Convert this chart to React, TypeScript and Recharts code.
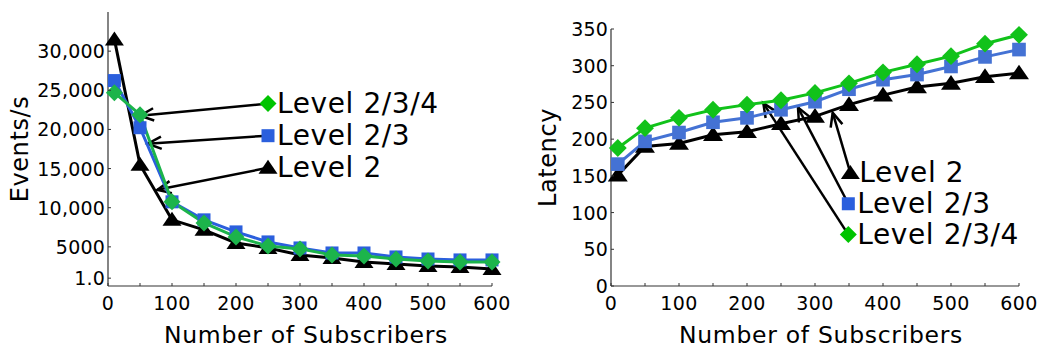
import React from 'react';
import { LineChart, Line, XAxis, YAxis, ReferenceLine, ReferenceDot } from 'recharts';

// subscriber counts on the x axis
const SUBSCRIBERS = [10, 50, 100, 150, 200, 250, 300, 350, 400, 450, 500, 550, 600];
const X_TICKS = [0, 50, 100, 150, 200, 250, 300, 350, 400, 450, 500, 550, 600];

// throughput (events/s)
const EVENTS_L2 = [31500, 15500, 8450, 7170, 5500, 4860, 3970, 3580, 3070, 2800, 2560, 2430, 2170];
const EVENTS_L23 = [26240, 20220, 10750, 8450, 6910, 5630, 4860, 4220, 4220, 3710, 3450, 3330, 3330];
const EVENTS_L234 = [24700, 21890, 10750, 8060, 6270, 5120, 4740, 3970, 3840, 3450, 3200, 3070, 3070];
const EVENTS_TICKS = [1000, 5000, 10000, 15000, 20000, 25000, 30000];

// latency
const LATENCY_L2 = [151, 190, 194, 206, 210, 221, 231, 247, 260, 271, 276, 285, 290];
const LATENCY_L23 = [166, 197, 209, 223, 229, 240, 251, 268, 281, 288, 299, 312, 322];
const LATENCY_L234 = [188, 215, 229, 240, 247, 253, 263, 276, 291, 302, 313, 330, 342];
const LATENCY_TICKS = [0, 50, 100, 150, 200, 250, 300, 350];

const eventsData = SUBSCRIBERS.map((n, i) => ({
  n,
  l2: EVENTS_L2[i],
  l23: EVENTS_L23[i],
  l234: EVENTS_L234[i],
}));
const latencyData = SUBSCRIBERS.map((n, i) => ({
  n,
  l2: LATENCY_L2[i],
  l23: LATENCY_L23[i],
  l234: LATENCY_L234[i],
}));

const FONT = '"DejaVu Sans", Verdana, sans-serif';

// annotation callouts: label anchor and arrow tip, in data units
const EVENTS_NOTES = [
  { label: 'Level 2/3/4', shape: 'diamond', at: [250, 23300], tip: [50, 21760] },
  { label: 'Level 2/3', shape: 'square', at: [250, 19200], tip: [62, 18180] },
  { label: 'Level 2', shape: 'triangle', at: [250, 15100], tip: [77, 12290] },
];
const LATENCY_NOTES = [
  { label: 'Level 2', shape: 'triangle', at: [352, 154], tip: [326, 236] },
  { label: 'Level 2/3', shape: 'square', at: [349, 112], tip: [275, 243] },
  { label: 'Level 2/3/4', shape: 'diamond', at: [349, 70], tip: [224, 249] },
];

const NOTE_FILL: Record<string, string> = {
  triangle: '#000',
  square: '#2b5fdd',
  diamond: '#00c400',
};

function Marker({ shape, cx, cy, fill, s = 1 }: { shape: string; cx: number; cy: number; fill: string; s?: number }) {
  if (shape === 'triangle') {
    return <path d={`M${cx},${cy - 8 * s}L${cx + 9.5 * s},${cy + 6 * s}L${cx - 9.5 * s},${cy + 6 * s}Z`} fill={fill} />;
  }
  if (shape === 'square') {
    return <rect x={cx - 6.5 * s} y={cy - 6.5 * s} width={13 * s} height={13 * s} fill={fill} />;
  }
  return <path d={`M${cx},${cy - 8.5 * s}L${cx + 8.5 * s},${cy}L${cx},${cy + 8.5 * s}L${cx - 8.5 * s},${cy}Z`} fill={fill} />;
}

const dotOf = (shape: string, fill: string, s: number) => (p: any) => (
  <Marker key={`${shape}-${p.index}`} shape={shape} cx={p.cx} cy={p.cy} fill={fill} s={s} />
);

function Arrow(p: any) {
  const { x1, y1, x2, y2 } = p;
  const a = Math.atan2(y2 - y1, x2 - x1);
  const len = 15;
  const s = 0.42;
  const hx1 = x2 - len * Math.cos(a - s);
  const hy1 = y2 - len * Math.sin(a - s);
  const hx2 = x2 - len * Math.cos(a + s);
  const hy2 = y2 - len * Math.sin(a + s);
  return (
    <g>
      <line x1={x1} y1={y1} x2={x2} y2={y2} stroke="#000" strokeWidth={2.5} />
      <polyline
        points={`${hx1},${hy1} ${x2},${y2} ${hx2},${hy2}`}
        fill="none"
        stroke="#000"
        strokeWidth={2.5}
      />
    </g>
  );
}

const noteShape = (shape: string, label: string, gap: number) => (p: any) => (
  <g>
    <Marker shape={shape} cx={p.cx} cy={p.cy} fill={NOTE_FILL[shape]} />
    <text
      x={p.cx + gap}
      y={p.cy}
      dominantBaseline="central"
      fontSize={28}
      letterSpacing={0.6}
      fontFamily={FONT}
      fill="#000"
    >
      {label}
    </text>
  </g>
);

function XTick({ x, y, payload }: any) {
  const v = payload.value;
  return (
    <g>
      <line x1={x} x2={x} y1={y} y2={y - 3} stroke="#333" />
      {v % 100 === 0 && (
        <text x={x} y={y + 17} textAnchor="middle" dominantBaseline="central" fontSize={19} letterSpacing={0.4} fontFamily={FONT} fill="#000">
          {v}
        </text>
      )}
    </g>
  );
}

const fmtEvents = (v: number) => (v === 1000 ? '1.0' : v >= 10000 ? v.toLocaleString('en-US') : String(v));

const YTick = (fmt: (v: number) => string) => ({ x, y, payload }: any) => (
  <g>
    <line x1={x} x2={x + 3} y1={y} y2={y} stroke="#333" />
    <text x={x - 3} y={y} textAnchor="end" dominantBaseline="central" fontSize={19} letterSpacing={0.2} fontFamily={FONT} fill="#000">
      {fmt(payload.value)}
    </text>
  </g>
);

const yTitle = (text: string, dx: number) => (p: any) => {
  const vb = p.viewBox;
  const cx = vb.x + dx;
  const cy = vb.y + vb.height / 2;
  return (
    <text x={cx} y={cy} transform={`rotate(-90 ${cx} ${cy})`} textAnchor="middle" dominantBaseline="central" fontSize={24} letterSpacing={0.6} fontFamily={FONT} fill="#000">
      {text}
    </text>
  );
};

const xTitle = (text: string) => (p: any) => {
  const vb = p.viewBox;
  return (
    <text x={vb.x + vb.width / 2 + 6} y={vb.y + 57} textAnchor="middle" fontSize={23.5} letterSpacing={0.7} fontFamily={FONT} fill="#000">
      {text}
    </text>
  );
};

const axisLine = { stroke: '#333', strokeWidth: 1.2 };

function EventsChart() {
  return (
    <LineChart width={520} height={349} data={eventsData} margin={{ top: 12, right: 28, bottom: 0, left: 0 }}>
      <XAxis
        dataKey="n"
        type="number"
        domain={[0, 600]}
        ticks={X_TICKS}
        interval={0}
        height={63}
        tickSize={0}
        tickMargin={0}
        tickLine={false}
        axisLine={axisLine}
        tick={<XTick />}
        label={xTitle('Number of Subscribers')}
      />
      <YAxis
        type="number"
        domain={[0, 35000]}
        ticks={EVENTS_TICKS}
        interval={0}
        width={108}
        tickSize={0}
        tickMargin={0}
        tickLine={false}
        axisLine={axisLine}
        tick={YTick(fmtEvents)}
        label={yTitle('Events/s', 20)}
      />
      {EVENTS_NOTES.map((m) => (
        <ReferenceLine
          key={`a-${m.label}`}
          segment={[{ x: m.at[0], y: m.at[1] }, { x: m.tip[0], y: m.tip[1] }]}
          shape={Arrow}
        />
      ))}
      <Line dataKey="l2" stroke="#000" strokeWidth={3} dot={dotOf('triangle', '#000', 1)} isAnimationActive={false} />
      <Line dataKey="l23" stroke="#2b5fdd" strokeWidth={3} dot={dotOf('square', '#2b5fdd', 1)} isAnimationActive={false} />
      <Line dataKey="l234" stroke="#1cb44b" strokeWidth={3} dot={dotOf('diamond', '#1cb44b', 1)} isAnimationActive={false} />
      {EVENTS_NOTES.map((m) => (
        <ReferenceDot key={`d-${m.label}`} x={m.at[0]} y={m.at[1]} r={8} shape={noteShape(m.shape, m.label, 9)} />
      ))}
    </LineChart>
  );
}

function LatencyChart() {
  return (
    <LineChart width={521} height={349} data={latencyData} margin={{ top: 29, right: 22, bottom: 0, left: 0 }}>
      <XAxis
        dataKey="n"
        type="number"
        domain={[0, 600]}
        ticks={X_TICKS}
        interval={0}
        height={63}
        tickSize={0}
        tickMargin={0}
        tickLine={false}
        axisLine={axisLine}
        tick={<XTick />}
        label={xTitle('Number of Subscribers')}
      />
      <YAxis
        type="number"
        domain={[0, 350]}
        ticks={LATENCY_TICKS}
        interval={0}
        width={91}
        tickSize={0}
        tickMargin={0}
        tickLine={false}
        axisLine={axisLine}
        tick={YTick((v) => String(v))}
        label={yTitle('Latency', 28)}
      />
      {LATENCY_NOTES.map((m) => (
        <ReferenceLine
          key={`a-${m.label}`}
          segment={[{ x: m.at[0], y: m.at[1] }, { x: m.tip[0], y: m.tip[1] }]}
          shape={Arrow}
        />
      ))}
      <Line dataKey="l2" stroke="#000" strokeWidth={3} dot={dotOf('triangle', '#000', 1.05)} isAnimationActive={false} />
      <Line dataKey="l23" stroke="#4472d4" strokeWidth={3} dot={dotOf('square', '#4472d4', 1.05)} isAnimationActive={false} />
      <Line dataKey="l234" stroke="#11c21a" strokeWidth={3} dot={dotOf('diamond', '#11c21a', 1.05)} isAnimationActive={false} />
      {LATENCY_NOTES.map((m) => (
        <ReferenceDot key={`d-${m.label}`} x={m.at[0]} y={m.at[1]} r={8} shape={noteShape(m.shape, m.label, 9)} />
      ))}
    </LineChart>
  );
}

export default function App() {
  return (
    <div style={{ position: 'absolute', left: 0, top: 0, width: 1041, height: 349, background: '#fff' }}>
      <div style={{ position: 'absolute', left: 0, top: 0 }}>
        <EventsChart />
      </div>
      <div style={{ position: 'absolute', left: 520, top: 0 }}>
        <LatencyChart />
      </div>
    </div>
  );
}
